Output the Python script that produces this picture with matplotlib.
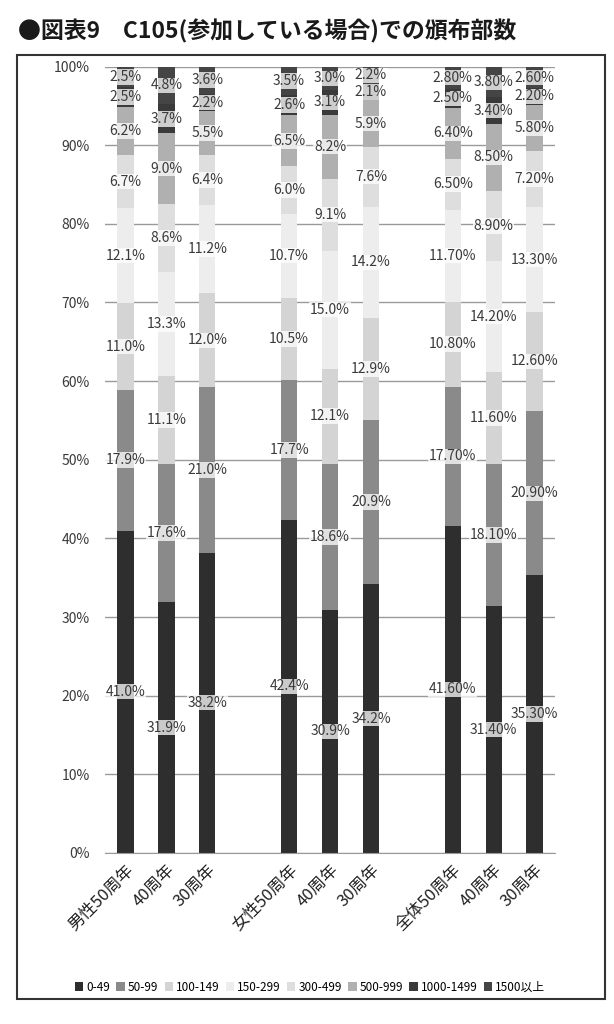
import matplotlib
matplotlib.use("Agg")
import matplotlib.pyplot as plt
from matplotlib.patches import Rectangle
import numpy as np

plt.rcParams['font.family'] = ['Noto Sans CJK JP', 'DejaVu Sans']

categories = ["男性50周年", "40周年", "30周年",
              "女性50周年", "40周年", "30周年",
              "全体50周年", "40周年", "30周年"]
series_names = ["0-49", "50-99", "100-149", "150-299", "300-499",
                "500-999", "1000-1499", "1500以上"]
# values per category (percent), in order of series_names
v_0_49 = [41.0, 31.9, 38.2, 42.4, 30.9, 34.2, 41.6, 31.4, 35.3]
v_50_99 = [17.9, 17.6, 21.0, 17.7, 18.6, 20.9, 17.7, 18.1, 20.9]
v_100_149 = [11.0, 11.1, 12.0, 10.5, 12.1, 12.9, 10.8, 11.6, 12.6]
v_150_299 = [12.1, 13.3, 11.2, 10.7, 15.0, 14.2, 11.7, 14.2, 13.3]
v_300_499 = [6.7, 8.6, 6.4, 6.0, 9.1, 7.6, 6.5, 8.9, 7.2]
v_500_999 = [6.2, 9.0, 5.5, 6.5, 8.2, 5.9, 6.4, 8.5, 5.8]
v_1000_1499 = [2.5, 3.7, 2.2, 2.6, 3.1, 2.1, 2.5, 3.4, 2.2]
v_1500 = [2.5, 4.8, 3.6, 3.5, 3.0, 2.2, 2.8, 3.8, 2.6]
label_decimals = [1, 1, 1, 1, 1, 1, 2, 2, 2]
y_ticks = [0, 10, 20, 30, 40, 50, 60, 70, 80, 90, 100]

series = [v_0_49, v_50_99, v_100_149, v_150_299, v_300_499,
          v_500_999, v_1000_1499, v_1500]
colors = ['#2e2e2e', '#8a8a8a', '#d4d4d4', '#ededed', '#dedede',
          '#b0b0b0', '#3a3a3a', '#454545']

positions = [0, 1, 2, 4, 5, 6, 8, 9, 10]

fig = plt.figure(figsize=(6.14, 10.24), dpi=100)
ax = fig.add_axes([0.171, 0.167, 0.733, 0.768])

bottom = np.zeros(len(categories))
for name, vals, col in zip(series_names, series, colors):
    vals = np.array(vals)
    ax.bar(positions, vals, width=0.4, bottom=bottom, color=col,
           edgecolor='none', label=name, zorder=2)
    for x, b, v, d in zip(positions, bottom, vals, label_decimals):
        ax.text(x, b + v / 2, f"{v:.{d}f}%", ha='center', va='center',
                fontsize=10, color='#3a3a3a', zorder=4,
                bbox=dict(boxstyle='square,pad=0.05', facecolor='white',
                          edgecolor='none', alpha=0.75))
    bottom += vals

ax.set_ylim(0, 100)
ax.set_xlim(-0.5, 10.5)
ax.set_yticks(y_ticks)
ax.set_yticklabels([f"{t}%" for t in y_ticks], fontsize=10, color='#3a3a3a')
ax.yaxis.grid(True, color='#9a9a9a', linewidth=1.0, zorder=0)
ax.set_axisbelow(True)
ax.tick_params(axis='y', length=0, pad=11)
ax.tick_params(axis='x', length=0, pad=6)
ax.set_xticks(positions)
ax.set_xticklabels(categories, rotation=45, ha='right',
                   rotation_mode='anchor', fontsize=12, color='#222222')
for s in ['top', 'right', 'left']:
    ax.spines[s].set_visible(False)
ax.spines['bottom'].set_color('#9a9a9a')

leg = fig.legend(loc='center', bbox_to_anchor=(0.505, 0.036), ncol=8,
                 frameon=False, fontsize=8.5, handlelength=0.7,
                 handleheight=0.7, handletextpad=0.25, columnspacing=0.55)

# border box
fig.patches.append(Rectangle((0.028, 0.024), 0.957, 0.922,
                             transform=fig.transFigure, fill=False,
                             edgecolor='#333333', linewidth=1.5))

fig.text(0.03, 0.969, "●図表9　C105(参加している場合)での頒布部数",
         fontsize=16.5, fontweight='bold', ha='left', va='center',
         color='#1a1a1a')

fig.savefig("out.png", dpi=100)
